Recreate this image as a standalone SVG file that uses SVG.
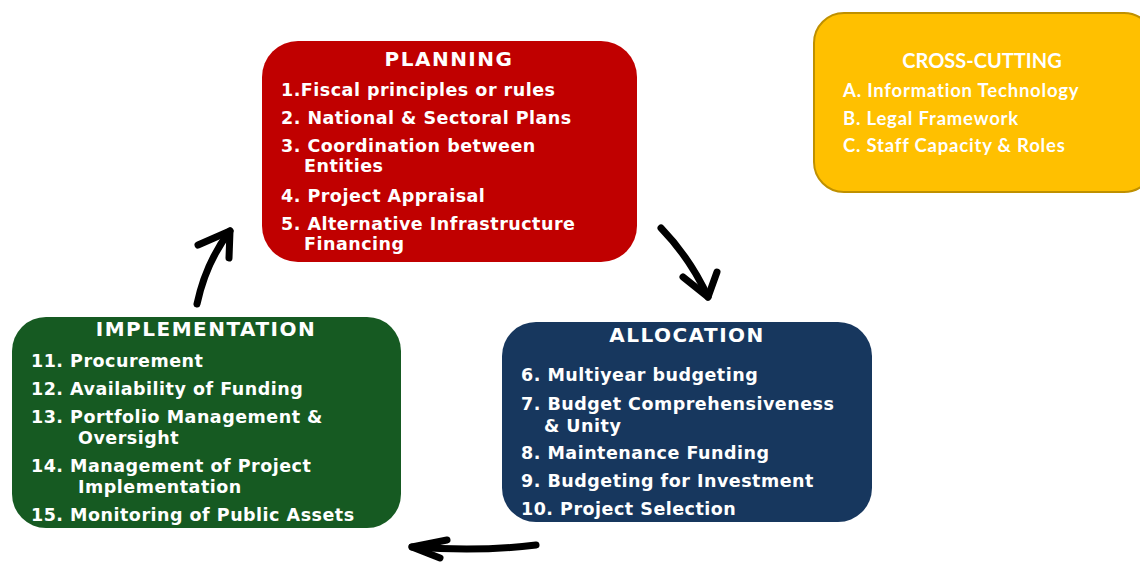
<svg xmlns="http://www.w3.org/2000/svg" width="1140" height="565" viewBox="0 0 1140 565">
<style>
.t{font-family:"DejaVu Sans",Verdana,sans-serif;font-weight:bold;font-size:17.5px;letter-spacing:0.5px;fill:#fff}
.h{font-family:"DejaVu Sans",Verdana,sans-serif;font-weight:bold;font-size:20px;letter-spacing:1.5px;fill:#fff;text-anchor:middle}
.c{font-family:Lato,"Open Sans",sans-serif;font-weight:bold;font-size:18.5px;letter-spacing:0.8px;fill:#fff}
.ch{font-family:Lato,"Open Sans",sans-serif;font-weight:bold;font-size:20px;fill:#fff;text-anchor:middle}
.a{fill:none;stroke:#000;stroke-width:7;stroke-linecap:round;stroke-linejoin:round}
</style>
<rect width="1140" height="565" fill="#fff"/>
<g id="planning">
<rect x="262" y="41" width="375" height="221" rx="36" fill="#C00000"/>
<text class="h" x="449" y="66">PLANNING</text>
<text class="t" x="281" y="96">1.Fiscal principles or rules</text>
<text class="t" x="281" y="124">2. National &amp; Sectoral Plans</text>
<text class="t" x="281" y="152">3. Coordination between</text>
<text class="t" x="304" y="172">Entities</text>
<text class="t" x="281" y="202">4. Project Appraisal</text>
<text class="t" x="281" y="230">5. Alternative Infrastructure</text>
<text class="t" x="304" y="250">Financing</text>
</g>
<g id="crosscutting">
<rect x="814" y="13" width="340" height="179" rx="30" fill="#FFC000" stroke="#BF9000" stroke-width="2"/>
<text class="ch" x="982" y="68">CROSS-CUTTING</text>
<text class="c" x="843" y="97">A. Information Technology</text>
<text class="c" x="843" y="125">B. Legal Framework</text>
<text class="c" x="843" y="152">C. Staff Capacity &amp; Roles</text>
</g>
<g id="implementation">
<rect x="12" y="317" width="389" height="211" rx="34" fill="#165A22"/>
<text class="h" x="206" y="336">IMPLEMENTATION</text>
<text class="t" x="31" y="367">11. Procurement</text>
<text class="t" x="31" y="395">12. Availability of Funding</text>
<text class="t" x="31" y="423">13. Portfolio Management &amp;</text>
<text class="t" x="78" y="444">Oversight</text>
<text class="t" x="31" y="472">14. Management of Project</text>
<text class="t" x="78" y="493">Implementation</text>
<text class="t" x="31" y="521">15. Monitoring of Public Assets</text>
</g>
<g id="allocation">
<rect x="502" y="322" width="370" height="200" rx="34" fill="#17375E"/>
<text class="h" x="687" y="342">ALLOCATION</text>
<text class="t" x="521" y="381">6. Multiyear budgeting</text>
<text class="t" x="521" y="410">7. Budget Comprehensiveness</text>
<text class="t" x="544" y="432">&amp; Unity</text>
<text class="t" x="521" y="459">8. Maintenance Funding</text>
<text class="t" x="521" y="487">9. Budgeting for Investment</text>
<text class="t" x="521" y="515">10. Project Selection</text>
</g>
<g id="connectors">
<path class="a" d="M197 304 Q206 262 230 231"/>
<path class="a" d="M198 245 L230 231 L229 258"/>
<path class="a" d="M661 228 Q690 258 708 297"/>
<path class="a" d="M683 277 L708 297 L717 272"/>
<path class="a" d="M536 545 Q480 552 412 547"/>
<path class="a" d="M447 540 L412 547 L440 558"/>
</g>
</svg>
